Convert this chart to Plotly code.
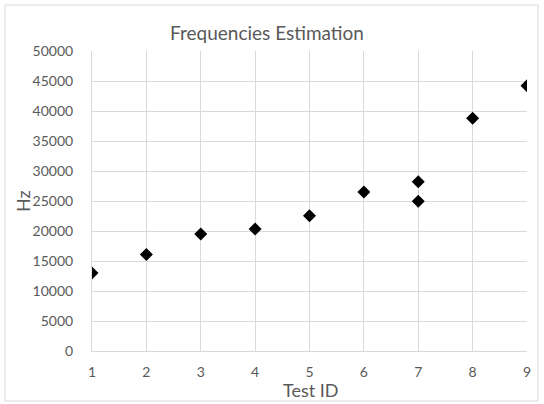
import plotly.graph_objects as go

test_id = [1, 2, 3, 4, 5, 6, 7, 7, 8, 9]
hz = [13000, 16100, 19500, 20350, 22550, 26500, 28200, 24950, 38800, 44200]

x_ticks = [1, 2, 3, 4, 5, 6, 7, 8, 9]
y_ticks = list(range(0, 50001, 5000))

FONT = "Lato"
GRID = "#d9d9d9"
TXT = "#595959"

L, R, T, B = 92, 527, 51, 351
W, H = R - L, B - T

fig = go.Figure()
fig.add_trace(go.Scatter(
    x=test_id, y=hz, mode="markers",
    marker=dict(symbol="diamond", size=10, color="black"),
    showlegend=False,
))

fig.update_layout(
    width=544, height=404,
    margin=dict(l=L, r=544 - R, t=T, b=404 - B),
    paper_bgcolor="white", plot_bgcolor="white",
    font=dict(family=FONT, color=TXT, size=12),
    title=dict(text="Frequencies Estimation", x=267/544, xanchor="center",
               y=1-33/404, yanchor="middle", yref="container",
               font=dict(size=19, color=TXT, family=FONT)),
    xaxis=dict(range=[1, 9], tickvals=x_ticks, showgrid=True, gridcolor=GRID,
               showline=True, linecolor=GRID, zeroline=False, automargin=False,
               ticks="", ticklabelstandoff=8,
               tickfont=dict(size=14, color=TXT)),
    yaxis=dict(range=[0, 50000], tickvals=y_ticks, tickformat="d",
               showgrid=True, gridcolor=GRID,
               showline=True, linecolor=GRID, zeroline=False, automargin=False,
               ticks="", ticklabelstandoff=15,
               tickfont=dict(size=14, color=TXT)),
    annotations=[
        dict(text="Test ID", xref="paper", yref="paper",
             x=(311 - L) / W, y=(B - 390) / H, xanchor="center", yanchor="middle",
             showarrow=False, font=dict(size=18, color=TXT, family=FONT)),
        dict(text="Hz", xref="paper", yref="paper", textangle=-90,
             x=(23 - L) / W, y=(B - 201) / H, xanchor="center", yanchor="middle",
             showarrow=False, font=dict(size=18, color=TXT, family=FONT)),
    ],
    shapes=[dict(type="rect", xref="paper", yref="paper",
                 x0=(5 - L) / W, x1=(538 - L) / W, y0=(B - 401) / H, y1=(B - 5) / H,
                 line=dict(color=GRID, width=1), layer="below")],
)

fig.write_html("out.html")
